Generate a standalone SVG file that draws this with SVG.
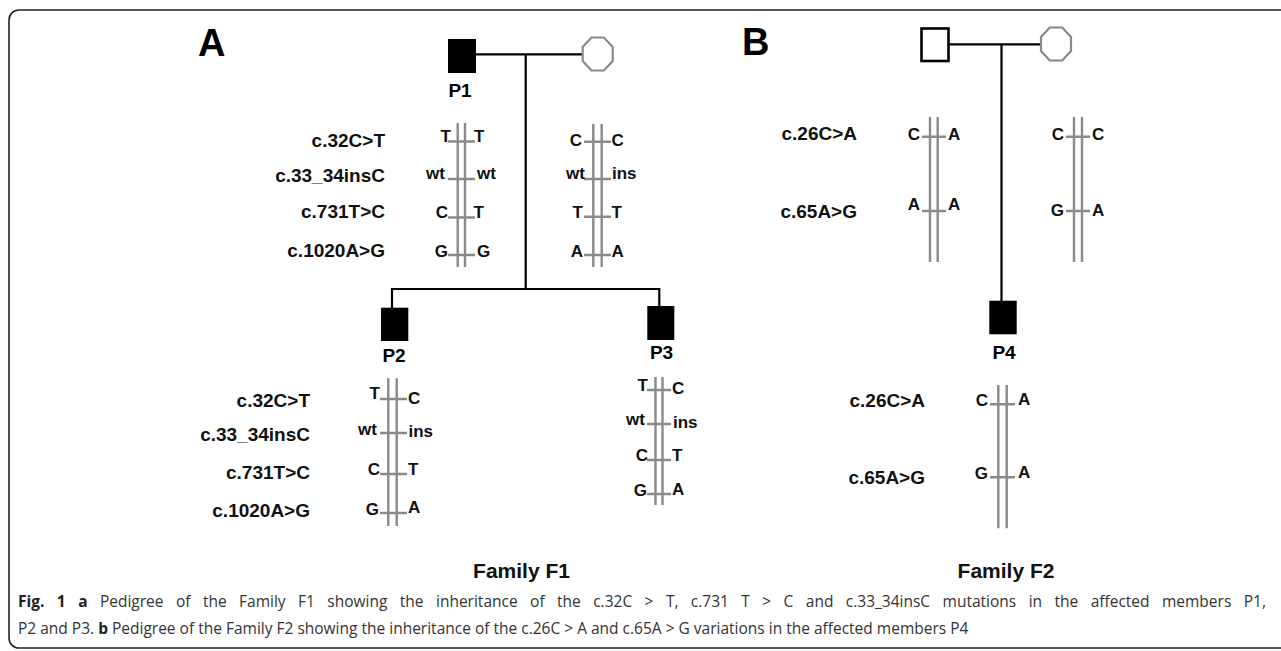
<svg xmlns="http://www.w3.org/2000/svg" width="1281" height="651" viewBox="0 0 1281 651">
<style>
.frame{fill:none;stroke:#222;stroke-width:1.6}
.line{fill:none;stroke:#000;stroke-width:2.2}
.aff{fill:#000}
.unaff{fill:#fff;stroke:#000;stroke-width:2.6}
.fem{fill:#fff;stroke:#8a8a8a;stroke-width:2.2}
.chr{fill:none;stroke:#8a8a8a;stroke-width:2.4}
.panel{font-family:"Liberation Sans",Arial,sans-serif;font-weight:bold;font-size:38px;fill:#000}
.pid{font-family:"Liberation Sans",Arial,sans-serif;font-weight:bold;font-size:19px;fill:#000;text-anchor:middle}
.mut{font-family:"Liberation Sans",Arial,sans-serif;font-weight:bold;font-size:19px;fill:#111;text-anchor:end}
.al{font-family:"Liberation Sans",Arial,sans-serif;font-weight:bold;font-size:17px;fill:#111}
.alL{text-anchor:end}
.fam{font-family:"Liberation Sans",Arial,sans-serif;font-weight:bold;font-size:21px;fill:#111;text-anchor:middle}
.cap{font-family:"Open Sans","Noto Sans",sans-serif;font-size:15.5px;fill:#333}
.capb{font-weight:bold;fill:#222}
</style>
<rect class="frame" x="9" y="10" width="1290" height="638" rx="10"/>

<text class="panel" x="198" y="56">A</text>
<text class="panel" x="742" y="55">B</text>

<g id="connectors">
  <path class="line" d="M475,54.3H583"/>
  <path class="line" d="M525.7,54.3V289"/>
  <path class="line" d="M392,289H659.3"/>
  <path class="line" d="M392,288V308"/>
  <path class="line" d="M659.3,288V306"/>
  <path class="line" d="M949,44.3H1040"/>
  <path class="line" d="M1001.5,44.3V301"/>
</g>

<!-- Family F1 -->
<g id="P1">
  <rect class="aff" x="448" y="39" width="28" height="34"/>
  <text class="pid" x="460" y="97">P1</text>
</g>
<g id="P1-haplotype">
  <path class="chr" d="M457.7,123V267M465,123V267M448,141.5H475M448,179H475M448,217.5H475M448,255H475"/>
  <text class="mut" x="385" y="146.5">c.32C&gt;T</text>
  <text class="mut" x="385" y="182">c.33_34insC</text>
  <text class="mut" x="385" y="218">c.731T&gt;C</text>
  <text class="mut" x="385" y="256.5">c.1020A&gt;G</text>
  <text class="al alL" x="451" y="142">T</text><text class="al" x="474" y="142">T</text>
  <text class="al alL" x="445" y="178.5">wt</text><text class="al" x="477" y="178.5">wt</text>
  <text class="al alL" x="448" y="218">C</text><text class="al" x="473.5" y="218">T</text>
  <text class="al alL" x="448" y="256.5">G</text><text class="al" x="477" y="256.5">G</text>
</g>
<g id="F1-mother">
  <polygon class="fem" points="591.5,37.5 603.9,37.5 612.7,47 612.7,61 603.9,70.5 591.5,70.5 582.7,61 582.7,47"/>
</g>
<g id="F1-mother-haplotype">
  <path class="chr" d="M593.3,124V267M601.7,124V267M584,141.7H611M584,179H611M584,216.7H611M584,255H611"/>
  <text class="al alL" x="582" y="145.5">C</text><text class="al" x="611.5" y="145.5">C</text>
  <text class="al alL" x="585" y="179">wt</text><text class="al" x="612" y="179">ins</text>
  <text class="al alL" x="583" y="218">T</text><text class="al" x="611.5" y="218">T</text>
  <text class="al alL" x="583" y="256.5">A</text><text class="al" x="611.5" y="256.5">A</text>
</g>
<g id="P2">
  <rect class="aff" x="381" y="307.7" width="27.3" height="33.3"/>
  <text class="pid" x="394" y="362">P2</text>
</g>
<g id="P2-haplotype">
  <path class="chr" d="M388.3,378.3V526M396.7,378.3V526M380,399H407M380,433H407M380,474H407M380,513H407"/>
  <text class="mut" x="310" y="406.5">c.32C&gt;T</text>
  <text class="mut" x="310" y="441">c.33_34insC</text>
  <text class="mut" x="310" y="479">c.731T&gt;C</text>
  <text class="mut" x="310" y="516.5">c.1020A&gt;G</text>
  <text class="al alL" x="380" y="399">T</text><text class="al" x="408" y="404">C</text>
  <text class="al alL" x="377" y="435">wt</text><text class="al" x="408.5" y="436.5">ins</text>
  <text class="al alL" x="380" y="475">C</text><text class="al" x="408" y="475">T</text>
  <text class="al alL" x="379" y="514.5">G</text><text class="al" x="408" y="513">A</text>
</g>
<g id="P3">
  <rect class="aff" x="647.3" y="306" width="27" height="34"/>
  <text class="pid" x="661.5" y="359">P3</text>
</g>
<g id="P3-haplotype">
  <path class="chr" d="M655.5,377V505M662.5,377V505M647,390H671M647,424H671M647,460H671M647,494H671"/>
  <text class="al alL" x="648" y="391">T</text><text class="al" x="672" y="394">C</text>
  <text class="al alL" x="645" y="425">wt</text><text class="al" x="673" y="428">ins</text>
  <text class="al alL" x="648" y="461">C</text><text class="al" x="672" y="461">T</text>
  <text class="al alL" x="647" y="496">G</text><text class="al" x="672" y="495">A</text>
</g>
<text class="fam" x="521.5" y="578">Family F1</text>

<!-- Family F2 -->
<g id="F2-father">
  <rect class="unaff" x="921.5" y="28.5" width="27" height="32.5"/>
</g>
<g id="F2-father-haplotype">
  <path class="chr" d="M930,117V262M937.7,117V262M922,136.7H946M922,211H946"/>
  <text class="mut" x="857" y="140">c.26C&gt;A</text>
  <text class="mut" x="857" y="218">c.65A&gt;G</text>
  <text class="al alL" x="920" y="139.5">C</text><text class="al" x="948" y="139.5">A</text>
  <text class="al alL" x="920" y="210">A</text><text class="al" x="948" y="210">A</text>
</g>
<g id="F2-mother">
  <polygon class="fem" points="1049.8,27.5 1062.2,27.5 1071,37 1071,51 1062.2,60.5 1049.8,60.5 1041,51 1041,37"/>
</g>
<g id="F2-mother-haplotype">
  <path class="chr" d="M1074,117V262M1082,117V262M1066,136.7H1090M1066,211H1090"/>
  <text class="al alL" x="1064" y="140">C</text><text class="al" x="1092" y="140">C</text>
  <text class="al alL" x="1064" y="216">G</text><text class="al" x="1092" y="216">A</text>
</g>
<g id="P4">
  <rect class="aff" x="989.3" y="300.7" width="27.4" height="33.6"/>
  <text class="pid" x="1004" y="359">P4</text>
</g>
<g id="P4-haplotype">
  <path class="chr" d="M998.3,385V528.3M1006.7,385V528.3M990,404.3H1015M990,477.3H1015"/>
  <text class="mut" x="925" y="407">c.26C&gt;A</text>
  <text class="mut" x="925" y="483.5">c.65A&gt;G</text>
  <text class="al alL" x="988" y="406">C</text><text class="al" x="1018" y="405">A</text>
  <text class="al alL" x="988" y="478.5">G</text><text class="al" x="1018" y="477.5">A</text>
</g>
<text class="fam" x="1006" y="578">Family F2</text>

<text class="cap" x="18" y="607" style="word-spacing:8.4px"><tspan class="capb">Fig. 1 a</tspan> Pedigree of the Family F1 showing the inheritance of the c.32C &gt; T, c.731 T &gt; C and c.33_34insC mutations in the affected members P1,</text>
<text class="cap" x="18" y="634">P2 and P3. <tspan class="capb">b</tspan> Pedigree of the Family F2 showing the inheritance of the c.26C &gt; A and c.65A &gt; G variations in the affected members P4</text>
</svg>
